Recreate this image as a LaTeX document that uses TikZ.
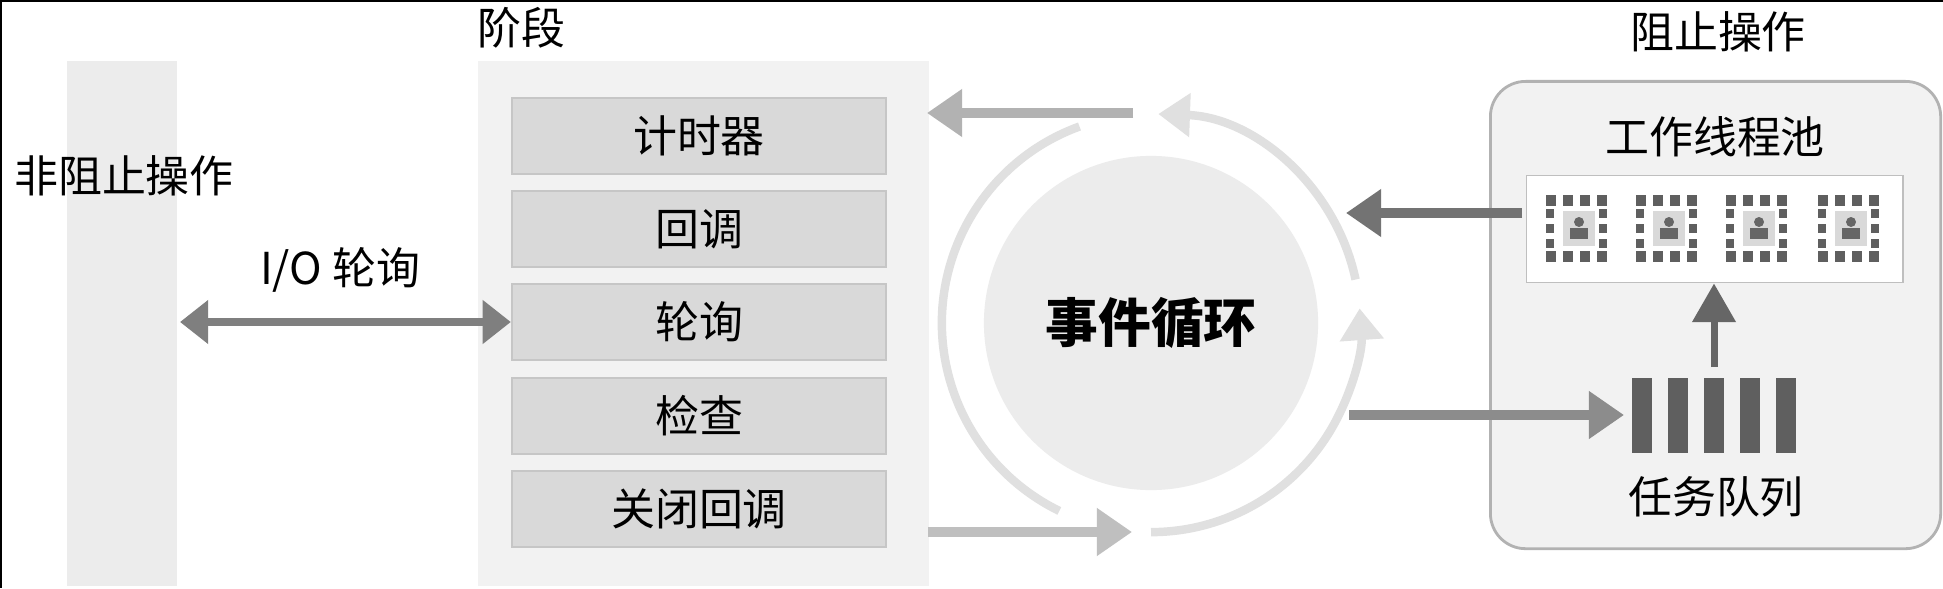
\documentclass[tikz,border=0pt]{standalone}
\usepackage{fontspec}
\setmainfont{Noto Sans CJK SC}
\usetikzlibrary{arrows.meta}
\definecolor{barg}{HTML}{ECECEC}
\definecolor{panelg}{HTML}{F2F2F2}
\definecolor{boxg}{HTML}{D9D9D9}
\definecolor{boxb}{HTML}{C6C6C6}
\definecolor{ringg}{HTML}{E0E0E0}
\definecolor{darkg}{HTML}{5F5F5F}
\begin{document}
\begin{tikzpicture}[x=0.01cm,y=-0.01cm,
  lbl/.style={font=\fontsize{12.5}{14}\selectfont,inner sep=0},
  phase/.style={draw=boxb,fill=boxg,line width=0.6pt,minimum width=3.74cm,minimum height=0.76cm,font=\fontsize{12.5}{14}\selectfont},
  ringarc/.style={draw=ringg,line width=2.4pt},
  ringarr/.style={ringarc,-{Triangle[width=12pt,length=9pt]}},
  bigarr/.style={line width=2.6pt,-{Triangle[width=13pt,length=10pt]}},
  blk/.style={fill=darkg}]
\useasboundingbox (0,0) rectangle (1943,588);
\fill[white] (0,0) rectangle (1943,588);
\draw[black,line width=1.2pt] (0,588) -- (0,0) -- (1943,0);
% left bar
\node[fill=barg,minimum width=1.10cm,minimum height=5.25cm,inner sep=0,anchor=north west] (nb) at (66,60) {};
\node[lbl] (nbl) at (124,176) {非阻止操作};
% phases
\node[fill=panelg,minimum width=4.51cm,minimum height=5.25cm,inner sep=0,anchor=north west] (pp) at (477,60) {};
\node[lbl] (ppl) at (521,28) {阶段};
\node[phase] (p1) at (699,136) {计时器};
\node[phase] (p2) at (699,229) {回调};
\node[phase] (p3) at (699,322) {轮询};
\node[phase] (p4) at (699,416) {检查};
\node[phase] (p5) at (699,509) {关闭回调};
\node[lbl] (iol) at (340,270) {I/O 轮询};
\coordinate (iol1) at (180,322);
\draw[bigarr,darkg!80,line width=2pt,{Triangle[width=12pt,length=8pt]}-{Triangle[width=12pt,length=8pt]}] (iol1) -- (p3.west);
% event loop
\coordinate (c) at (1151,323);
\node[circle,fill=barg,minimum size=3.34cm,inner sep=0,font=\fontsize{15}{17}\selectfont\bfseries] (el) at (c) {事件循环};
\draw[ringarc] (c) ++(110:2.09cm) arc[start angle=110,end angle=244,radius=2.09cm];
\draw[ringarr] (c) ++(12:2.09cm) arc[start angle=12,end angle=88,radius=2.09cm];
\draw[ringarr] (c) ++(-90:2.09cm) arc[start angle=-90,end angle=4,radius=2.09cm];
\coordinate (ta1) at (1133,113);
\coordinate (ta2) at (927,113);
\draw[bigarr,black!30] (ta1) -- (ta2);
\coordinate (ba1) at (928,532);
\coordinate (ba2) at (1132,532);
\draw[bigarr,black!25] (ba1) -- (ba2);
% blocking
\node[draw=black!30,fill=panelg,rounded corners=10pt,minimum width=4.50cm,minimum height=4.67cm,inner sep=0,anchor=north west,line width=0.8pt] (bp) at (1489,80) {};
\node[lbl] (bpl) at (1718,32) {阻止操作};
\node[lbl] (wpl) at (1715,137) {工作线程池};
\node[draw=black!25,fill=white,minimum width=3.76cm,minimum height=1.07cm,inner sep=0,anchor=north west] (wp) at (1526,175) {};
\foreach \cx [count=\i] in {1579,1669,1759,1851}{
  \coordinate (w\i) at (\cx,228);
  \foreach \dx in {-33,-16,1,18}{
    \fill[darkg] (\cx+\dx,195) rectangle ++(10,11);
    \fill[darkg] (\cx+\dx,251) rectangle ++(10,11);
  }
  \foreach \dy in {-19,-4,11}{
    \fill[darkg] (\cx-33,228+\dy) rectangle ++(8,9);
    \fill[darkg] (\cx+20,228+\dy) rectangle ++(8,9);
  }
  \fill[black!15] (\cx-16,211) rectangle (\cx+16,246);
  \fill[black!60] (\cx,222) circle (5);
  \fill[black!60] (\cx-9,239) rectangle (\cx+9,228);
}
\coordinate (wa1) at (1522,213);
\coordinate (wa2) at (1346,213);
\draw[bigarr,black!55] (wa1) -- (wa2);
% queue
\foreach \bx [count=\i] in {1632,1668,1704,1740,1776}{
  \fill[darkg] (\bx,378) rectangle ++(20,75);
}
\node[lbl] (tq) at (1716,497) {任务队列};
\coordinate (qa1) at (1349,415);
\coordinate (qa2) at (1624,415);
\draw[bigarr,black!45] (qa1) -- (qa2);
\coordinate (ua1) at (1714,367);
\draw[black!60,line width=2pt,-{Triangle[width=12pt,length=11pt]}] (ua1) -- (wp.south -| ua1);
\end{tikzpicture}
\end{document}
